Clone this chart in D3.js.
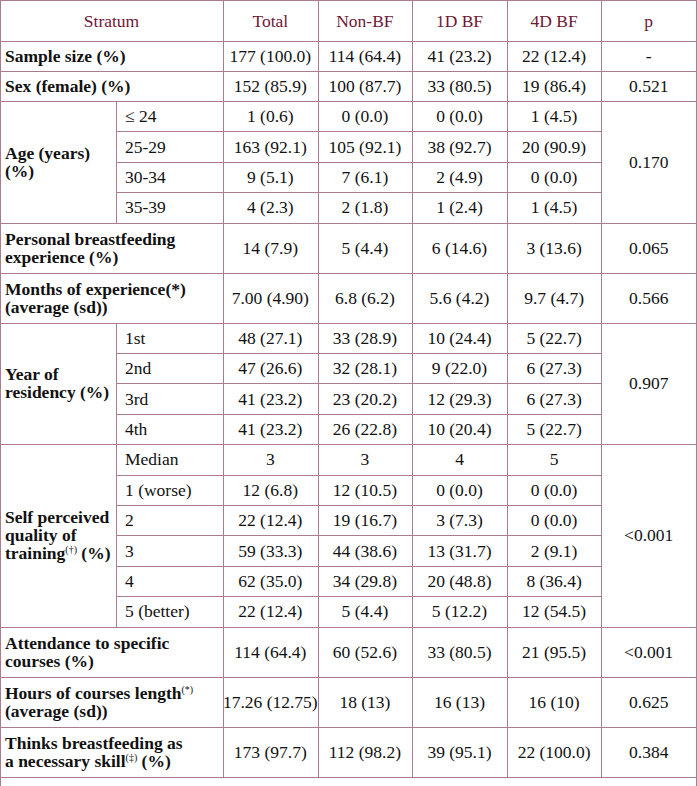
<!DOCTYPE html>
<html>
<head>
<meta charset="utf-8">
<title>Stratum table</title>
<style>
  html, body { margin: 0; padding: 0; background: #fff; }
  svg { display: block; }
  svg text { font-family: "Liberation Serif", Tinos, "Times New Roman", "DejaVu Serif", serif; font-size: 17.5px; fill: #111; }
  svg text.head { fill: #6e1836; }
  svg text.bold { font-weight: bold; }
  .grid { stroke: #a97d8d; stroke-width: 1; shape-rendering: crispEdges; }
</style>
</head>
<body>
<script src="https://cdn.jsdelivr.net/npm/d3@7/dist/d3.min.js"></script>
<script>
// ---- data ----
var columns = ["Total", "Non-BF", "1D BF", "4D BF", "p"];

// each label line: list of [text, superscript]
var groupLabels = [
  [[["Sample size (%)", ""]]],
  [[["Sex (female) (%)", ""]]],
  [[["Age (years)", ""]], [["(%)", ""]]],
  [[["Personal breastfeeding", ""]], [["experience (%)", ""]]],
  [[["Months of experience(*)", ""]], [["(average (sd))", ""]]],
  [[["Year of", ""]], [["residency (%)", ""]]],
  [[["Self perceived", ""]], [["quality of", ""]], [["training", "(†)"], [" (%)", ""]]],
  [[["Attendance to specific", ""]], [["courses (%)", ""]]],
  [[["Hours of courses length", "(*)"]], [["(average (sd))", ""]]],
  [[["Thinks breastfeeding as", ""]], [["a necessary skill", "(‡)"], [" (%)", ""]]]
];

var subLabels = [
  [], [],
  ["≤ 24", "25-29", "30-34", "35-39"],
  [], [],
  ["1st", "2nd", "3rd", "4th"],
  ["Median", "1 (worse)", "2", "3", "4", "5 (better)"],
  [], [], []
];

var cellValues = [
  [["177 (100.0)", "114 (64.4)", "41 (23.2)", "22 (12.4)"]],
  [["152 (85.9)", "100 (87.7)", "33 (80.5)", "19 (86.4)"]],
  [["1 (0.6)", "0 (0.0)", "0 (0.0)", "1 (4.5)"],
   ["163 (92.1)", "105 (92.1)", "38 (92.7)", "20 (90.9)"],
   ["9 (5.1)", "7 (6.1)", "2 (4.9)", "0 (0.0)"],
   ["4 (2.3)", "2 (1.8)", "1 (2.4)", "1 (4.5)"]],
  [["14 (7.9)", "5 (4.4)", "6 (14.6)", "3 (13.6)"]],
  [["7.00 (4.90)", "6.8 (6.2)", "5.6 (4.2)", "9.7 (4.7)"]],
  [["48 (27.1)", "33 (28.9)", "10 (24.4)", "5 (22.7)"],
   ["47 (26.6)", "32 (28.1)", "9 (22.0)", "6 (27.3)"],
   ["41 (23.2)", "23 (20.2)", "12 (29.3)", "6 (27.3)"],
   ["41 (23.2)", "26 (22.8)", "10 (20.4)", "5 (22.7)"]],
  [["3", "3", "4", "5"],
   ["12 (6.8)", "12 (10.5)", "0 (0.0)", "0 (0.0)"],
   ["22 (12.4)", "19 (16.7)", "3 (7.3)", "0 (0.0)"],
   ["59 (33.3)", "44 (38.6)", "13 (31.7)", "2 (9.1)"],
   ["62 (35.0)", "34 (29.8)", "20 (48.8)", "8 (36.4)"],
   ["22 (12.4)", "5 (4.4)", "5 (12.2)", "12 (54.5)"]],
  [["114 (64.4)", "60 (52.6)", "33 (80.5)", "21 (95.5)"]],
  [["17.26 (12.75)", "18 (13)", "16 (13)", "16 (10)"]],
  [["173 (97.7)", "112 (98.2)", "39 (95.1)", "22 (100.0)"]]
];

var pValues = ["-", "0.521", "0.170", "0.065", "0.566", "0.907", "<0.001", "<0.001", "0.625", "0.384"];

// ---- layout ----
var W = 697, H = 786;
var headH = 41, oneLine = 30, twoLine = 50, subRow = 30.4;
var subX = 116, dataX = 223, rightX = 696;

var svg = d3.select("body").append("svg")
  .attr("width", W)
  .attr("height", H);

var x = d3.scaleBand().domain(columns).range([dataX, rightX]).padding(0);
var dataCols = columns.slice(0, 4);

var groups = groupLabels.map(function(lab, i) {
  var n = subLabels[i].length;
  var h = n ? n * subRow : (lab.length > 1 ? twoLine : oneLine);
  return { i: i, label: lab, subs: subLabels[i], vals: cellValues[i], p: pValues[i], h: h };
});
var y0 = headH;
groups.forEach(function(g) { g.y = y0; y0 += g.h; });
var tableBottom = y0;

var grid = svg.append("g");
var txt = svg.append("g");

function hline(x1, x2, yy) {
  grid.append("line").attr("class", "grid")
    .attr("x1", x1).attr("x2", x2).attr("y1", Math.round(yy) + 0.5).attr("y2", Math.round(yy) + 0.5);
}
function vline(xx, y1, y2) {
  grid.append("line").attr("class", "grid")
    .attr("x1", Math.round(xx) + 0.5).attr("x2", Math.round(xx) + 0.5).attr("y1", y1).attr("y2", y2);
}

// header
hline(0, rightX, 0);
hline(0, rightX, headH);
txt.append("text").attr("class", "head")
  .attr("x", dataX / 2).attr("y", headH / 2 + 6).attr("text-anchor", "middle").text("Stratum");
txt.selectAll(".colhead").data(columns).enter().append("text")
  .attr("class", "head")
  .attr("x", function(d) { return x(d) + x.bandwidth() / 2; })
  .attr("y", headH / 2 + 6)
  .attr("text-anchor", "middle")
  .text(function(d) { return d; });

vline(0, 0, H);
vline(rightX, 0, H);
columns.forEach(function(c) { vline(x(c), 0, tableBottom); });

groups.forEach(function(g) {
  hline(0, rightX, g.y + g.h);

  // group label, bold, possibly with superscripts
  var lh = 18;
  var ty = g.y + g.h / 2 - (g.label.length - 1) * lh / 2 + 6;
  g.label.forEach(function(parts, k) {
    var t = txt.append("text").attr("class", "bold").attr("x", 5).attr("y", ty + k * lh);
    var lift = 0;
    parts.forEach(function(p) {
      var s = t.append("tspan").text(p[0]);
      if (lift) { s.attr("dy", lift); lift = 0; }
      if (p[1]) {
        t.append("tspan").attr("dy", -6).style("font-size", "10px").style("font-weight", "normal").text(p[1]);
        lift = 6;
      }
    });
  });

  var n = g.vals.length;
  var rh = g.h / n;
  if (g.subs.length) {
    vline(subX, g.y, g.y + g.h);
    for (var r = 1; r < n; r++) hline(subX, x("p"), g.y + r * rh);
    txt.selectAll(null).data(g.subs).enter().append("text")
      .attr("x", subX + 9)
      .attr("y", function(d, r) { return g.y + r * rh + rh / 2 + 6; })
      .text(function(d) { return d; });
  }

  g.vals.forEach(function(row, r) {
    txt.selectAll(null).data(row).enter().append("text")
      .attr("x", function(d, c) { return x(dataCols[c]) + x.bandwidth() / 2; })
      .attr("y", g.y + r * rh + rh / 2 + 6)
      .attr("text-anchor", "middle")
      .text(function(d) { return d; });
  });

  txt.append("text")
    .attr("x", x("p") + x.bandwidth() / 2)
    .attr("y", g.y + g.h / 2 + 6)
    .attr("text-anchor", "middle")
    .text(g.p);
});
</script>
</body>
</html>
